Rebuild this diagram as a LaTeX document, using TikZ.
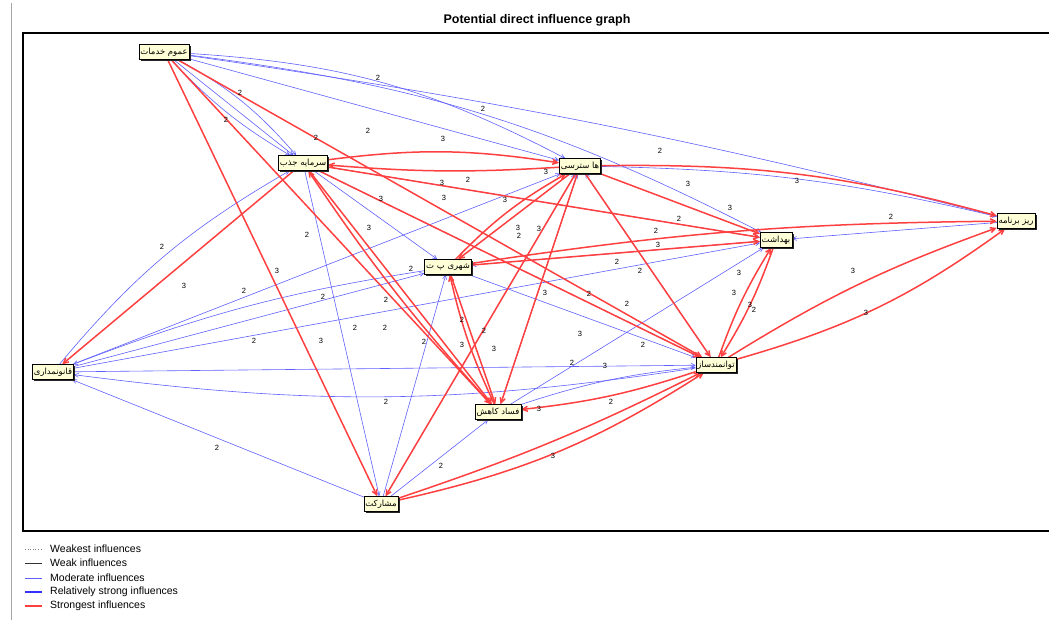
\documentclass[tikz,border=0pt]{standalone}
\usepackage{fontspec}
\setmainfont{Liberation Sans}
\newfontfamily\fa[Script=Arabic]{DejaVu Sans}
\TeXXeTstate=1
\usetikzlibrary{arrows.meta,shadows,backgrounds}
\definecolor{redE}{RGB}{255,64,64}
\definecolor{blueE}{RGB}{96,96,255}
\definecolor{blueS}{RGB}{50,50,255}
\definecolor{boxfill}{RGB}{255,255,215}
\newcommand{\rw}[1]{\beginR #1\endR}
\begin{document}
\begin{tikzpicture}[x=1pt,y=-1pt,
 vbox/.style={draw=black, fill=boxfill, font=\fa\fontsize{8.5}{9}\selectfont, inner xsep=1.5pt, inner ysep=0.5pt, minimum height=15pt,
   drop shadow={shadow xshift=1.8pt,shadow yshift=-1.8pt,fill=black!85,opacity=1}},
 rs/.style={draw=redE, line width=1.5pt, -{Straight Barb[length=5pt,width=5pt]}},
 bm/.style={draw=blueE, line width=0.6pt, -{Straight Barb[length=4pt,width=4pt]}},
 lbl/.style={font=\fontsize{7.5}{8}\selectfont, inner sep=0pt},
 lg/.style={font=\fontsize{10.5}{12}\selectfont, anchor=west, inner sep=0pt},
]
\useasboundingbox (0,0) rectangle (1049,623);
\draw[gray!70, line width=1pt] (11,3) -- (11,620);
\node[font=\bfseries\fontsize{12.5}{14}\selectfont] (title) at (537,20) {Potential direct influence graph};

% nodes (words left to right, as the picture prints them)
\node[vbox] (K) at (164,52) {\rw{خدمات} \rw{عموم}};
\node[vbox] (J) at (303,163) {\rw{جذب} \rw{سرمایه}};
\node[vbox] (D) at (580,166) {\rw{سترسی} \rw{ها}};
\node[vbox] (T) at (448,267) {\rw{ت} \rw{پ} \rw{شهری}};
\node[vbox] (B) at (776,240) {\rw{بهداشت}};
\node[vbox] (P) at (1016,221) {\rw{برنامه} \rw{ریز}};
\node[vbox] (Q) at (53,372) {\rw{قانونمداری}};
\node[vbox] (F) at (498,412) {\rw{کاهش} \rw{فساد}};
\node[vbox] (V) at (716,365) {\rw{توانمندساز}};
\node[vbox] (M) at (381,504) {\rw{مشارکت}};

\begin{scope}[on background layer]
\draw[black, line width=1.1pt] (23,33) rectangle (1060,531);
% moderate (blue) influences
\draw[bm] (K) -- (J);
\draw[bm] (K) to[bend left=10] (J);
\draw[bm] (K) to[bend right=8] (J);
\draw[bm] (K) -- (D);
\draw[bm] (K) to[bend left=12] (D);
\draw[bm] (K) to[bend left=10] (B);
\draw[bm] (K) to[bend left=3] (P);
\draw[bm] (D) to[bend left=6] (P);
\draw[bm] (J) -- (T);
\draw[bm] (J) -- (M);
\draw[bm] (J) -- (V);
\draw[bm] (J) -- (B);
\draw[bm] (Q) to[bend left=10] (J);
\draw[bm] (Q) -- (T);
\draw[bm] (T) to[bend right=6] (Q);
\draw[bm] (Q) -- (D);
\draw[bm] (Q) -- (B);
\draw[bm] (Q) -- (V);
\draw[bm] (V) to[bend left=8] (Q);
\draw[bm] (M) -- (Q);
\draw[bm] (M) -- (D);
\draw[bm] (M) -- (T);
\draw[bm] (M) -- (F);
\draw[bm] (F) -- (B);
\draw[bm] (F) -- (D);
\draw[bm] (T) -- (V);
\draw[bm] (B) -- (T);
\draw[bm] (P) -- (B);
\draw[bm] (V) -- (D);
\draw[bm] (F) to[bend left=6] (V);
% strongest (red) influences
\draw[rs] (J) to[bend left=8] (D);
\draw[rs] (D) to[bend left=4] (J);
\draw[rs] (J) -- (B);
\draw[rs] (D) -- (B);
\draw[rs] (D) to[bend left=8] (P);
\draw[rs] (T) -- (B);
\draw[rs] (T) to[bend left=4] (P);
\draw[rs] (J) -- (F);
\draw[rs] (F) to[bend left=4] (J);
\draw[rs] (J) -- (Q);
\draw[rs] (K) -- (V);
\draw[rs] (K) -- (F);
\draw[rs] (K) -- (M);
\draw[rs] (D) -- (T);
\draw[rs] (T) to[bend left=8] (D);
\draw[rs] (D) -- (F);
\draw[rs] (D) -- (M);
\draw[rs] (D) -- (V);
\draw[rs] (B) to[bend left=6] (V);
\draw[rs] (V) to[bend left=6] (B);
\draw[rs] (V) to[bend right=10] (P);
\draw[rs] (V) to[bend left=6] (P);
\draw[rs] (V) to[bend left=6] (F);
\draw[rs] (M) to[bend right=10] (V);
\draw[rs] (M) to[bend right=4] (V);
\draw[rs] (J) -- (V);
\draw[rs] (T) -- (F);
\draw[rs] (F) to[bend left=6] (T);
\end{scope}

% labels
\foreach \x/\y/\t [count=\i] in {378/78/2,483/109/2,240/93/2,226/120/2,316/138/2,368/131/2,443/139/3,660/151/2,797/181/3,688/184/3,730/208/3,468/180/2,442/183/3,444/198/3,546/172/3,381/199/3,369/228/3,307/235/2,505/200/3,518/228/3,519/236/2,539/229/3,679/219/2,656/231/2,891/217/2,658/245/3,617/262/2,640/271/2,411/269/2,162/247/2,184/286/3,277/271/3,244/291/2,323/297/2,386/300/2,739/273/3,853/271/3,545/293/3,589/294/2,462/320/2,627/304/2,734/293/3,750/305/3,754/310/2,866/313/3,355/328/2,385/328/2,484/331/2,580/334/3,254/341/2,321/341/3,424/342/2,462/345/3,494/349/3,643/345/2,572/363/2,605/366/3,386/402/2,539/409/3,611/402/2,217/448/2,441/466/2,553/456/3}
  \node[lbl] (l\i) at (\x,\y) {\t};

% legend
\draw[gray, dotted, line width=0.6pt] (25,549) -- (42,549) coordinate (g1);
\node[lg] (t1) at (50,549) {Weakest influences};
\draw[black!80, line width=0.6pt] (25,563) -- (42,563) coordinate (g2);
\node[lg] (t2) at (50,563) {Weak influences};
\draw[blueE, line width=0.9pt] (25,578) -- (42,578) coordinate (g3);
\node[lg] (t3) at (50,578) {Moderate influences};
\draw[blueS, line width=1.6pt] (25,592) -- (42,592) coordinate (g4);
\node[lg] (t4) at (50,592) {Relatively strong influences};
\draw[redE, line width=1.6pt] (25,606) -- (42,606) coordinate (g5);
\node[lg] (t5) at (50,606) {Strongest influences};
\end{tikzpicture}
\end{document}
